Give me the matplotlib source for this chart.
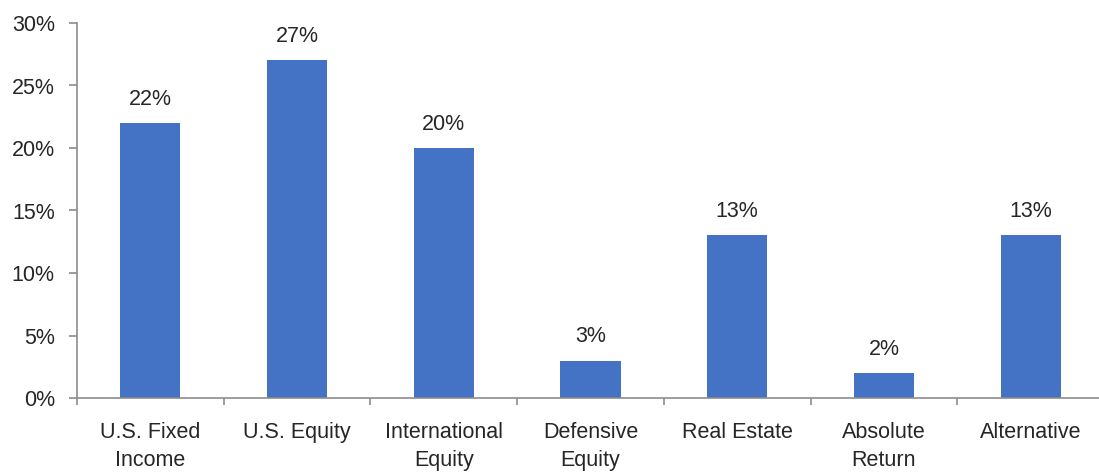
import numpy as np
import matplotlib
matplotlib.use('Agg')
import matplotlib.pyplot as plt
from matplotlib.ticker import FuncFormatter, MultipleLocator

plt.rcParams['font.family'] = ['Liberation Sans', 'DejaVu Sans']

categories = ['U.S. Fixed\nIncome', 'U.S. Equity', 'International\nEquity', 'Defensive\nEquity',
              'Real Estate', 'Absolute\nReturn', 'Alternative']
values = [22, 27, 20, 3, 13, 2, 13]

bar_color = '#4472C4'
axis_color = '#8c8c8c'
text_color = '#262626'

fig = plt.figure(figsize=(10.99, 4.73), dpi=100)
# axes runs a little past the right edge, like the source
ax = fig.add_axes([77 / 1099, 75 / 473, 1027 / 1099, 375 / 473])

x = np.arange(len(categories))
ax.bar(x, values, width=0.41, color=bar_color, zorder=2)

for xi, v in zip(x, values):
    ax.annotate(f'{v}%', (xi, v), xytext=(0, 13), textcoords='offset points',
                ha='center', va='baseline', fontsize=15.5, color=text_color)

ax.set_xlim(-0.5, len(categories) - 0.5)
ax.set_ylim(0, 30)
ax.yaxis.set_major_locator(MultipleLocator(5))
ax.yaxis.set_major_formatter(FuncFormatter(lambda v, p: f'{v:.0f}%'))

ax.set_xticks(x)
ax.set_xticklabels(categories, linespacing=1.45)
ax.set_xticks(np.arange(len(categories)) - 0.5, minor=True)
ax.tick_params(axis='x', which='major', length=0, pad=17, labelsize=15.5, labelcolor=text_color)
ax.tick_params(axis='x', which='minor', length=5, width=1.2, color=axis_color, direction='out')
ax.tick_params(axis='y', length=6, width=1.2, color=axis_color, pad=10, labelsize=15.5,
               labelcolor=text_color)

for s in ['top', 'right']:
    ax.spines[s].set_visible(False)
for s in ['left', 'bottom']:
    ax.spines[s].set_color(axis_color)
    ax.spines[s].set_linewidth(1.2)

fig.savefig('out.png', dpi=100)
